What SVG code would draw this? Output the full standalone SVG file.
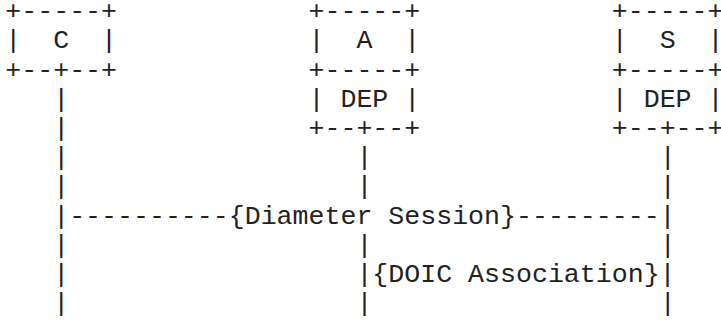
<svg xmlns="http://www.w3.org/2000/svg" width="721" height="320" viewBox="0 0 721 320">
<style>
text{font-family:"Courier New",Courier,"Liberation Mono",monospace;font-size:26.6px;fill:#222;white-space:pre}
</style>
<rect width="721" height="320" fill="#fff"/>
<g id="node-C">
<text x="5.3" y="19.1" xml:space="preserve">+-----+</text>
<text x="5.3" y="48.3" xml:space="preserve">|  C  |</text>
<text x="5.3" y="77.5" xml:space="preserve">+--+--+</text>
</g>
<g id="node-A">
<text x="308.54" y="19.1" xml:space="preserve">+-----+</text>
<text x="308.54" y="48.3" xml:space="preserve">|  A  |</text>
<text x="308.54" y="77.5" xml:space="preserve">+-----+</text>
<text x="308.54" y="106.7" xml:space="preserve">| DEP |</text>
<text x="308.54" y="135.9" xml:space="preserve">+--+--+</text>
</g>
<g id="node-S">
<text x="611.78" y="19.1" xml:space="preserve">+-----+</text>
<text x="611.78" y="48.3" xml:space="preserve">|  S  |</text>
<text x="611.78" y="77.5" xml:space="preserve">+-----+</text>
<text x="611.78" y="106.7" xml:space="preserve">| DEP |</text>
<text x="611.78" y="135.9" xml:space="preserve">+--+--+</text>
</g>
<g id="connectors">
<text x="53.18" y="106.7">|</text>
<text x="53.18" y="135.9">|</text>
<text x="53.18" y="165.1">|</text>
<text x="53.18" y="194.3">|</text>
<text x="53.18" y="223.5" xml:space="preserve">|----------{Diameter Session}---------|</text>
<text x="53.18" y="252.7">|</text>
<text x="53.18" y="281.9">|</text>
<text x="53.18" y="311.1">|</text>
<text x="356.42" y="165.1">|</text>
<text x="356.42" y="194.3">|</text>
<text x="356.42" y="252.7">|</text>
<text x="356.42" y="281.9" xml:space="preserve">|{DOIC Association}|</text>
<text x="356.42" y="311.1">|</text>
<text x="659.66" y="165.1">|</text>
<text x="659.66" y="194.3">|</text>
<text x="659.66" y="252.7">|</text>
<text x="659.66" y="311.1">|</text>
</g>
</svg>
